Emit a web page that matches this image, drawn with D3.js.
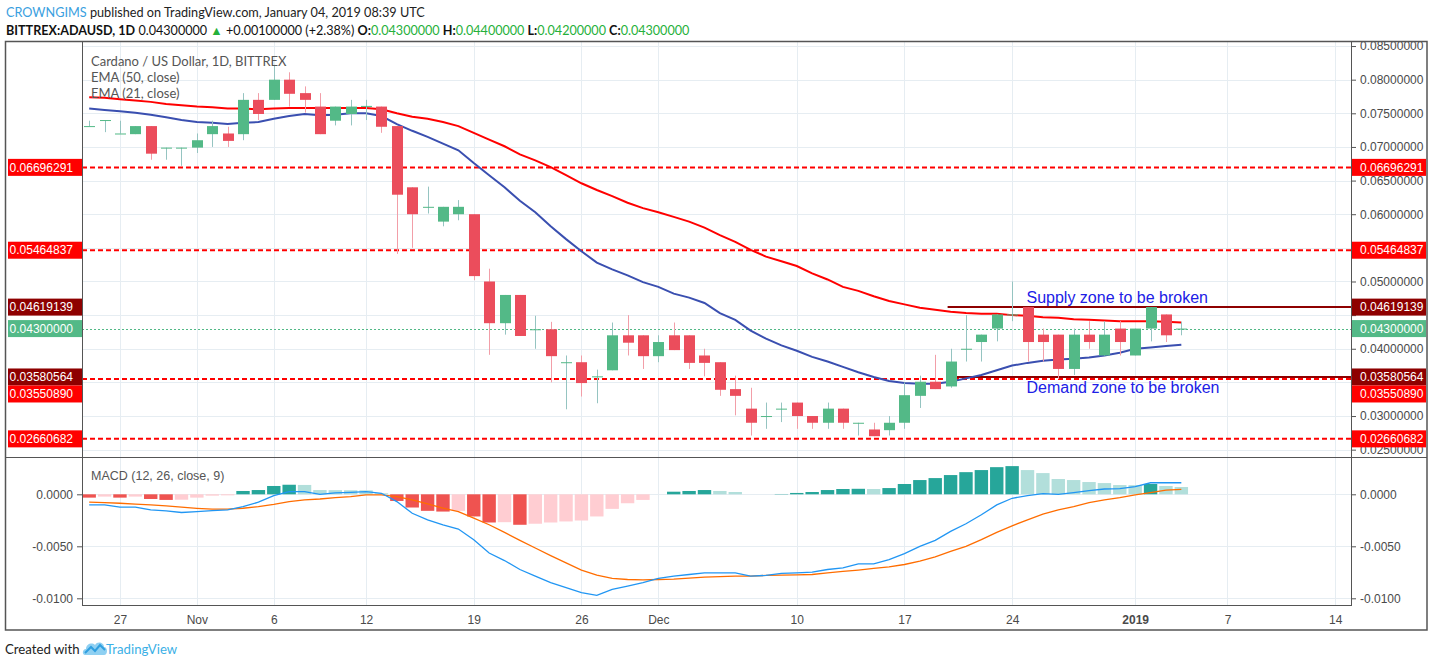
<!DOCTYPE html>
<html><head><meta charset="utf-8">
<script src="https://cdn.jsdelivr.net/npm/d3@7/dist/d3.min.js"></script>
<style>
body{margin:0;background:#fff;}
svg{display:block;}
.ax text{font-family:"Liberation Sans Narrow","Arial Narrow","Liberation Sans",sans-serif;font-size:12px;fill:#4a4a4a;}
</style>
</head><body>
<svg id="chart" width="1433" height="667"></svg>
<script>
// ---------------- DATA ----------------
const startDay = [2018, 9, 25]; // first candle: 25 Oct 2018 (UTC)
const opens  = [0.0731,0.0740,0.0720,0.0719,0.0731,0.0699,0.0699,0.0699,0.0719,0.0720,0.0719,0.0770,0.0770,0.0800,0.0780,0.0760,0.0739,0.0749,0.0760,0.0760,0.0731,0.0640,0.0611,0.0589,0.0600,0.0600,0.0500,0.0438,0.0480,0.0429,0.0429,0.0380,0.0380,0.0359,0.0368,0.0420,0.0420,0.0389,0.0420,0.0420,0.0390,0.0380,0.0340,0.0311,0.0300,0.0311,0.0320,0.0300,0.0290,0.0311,0.0290,0.0280,0.0279,0.0290,0.0330,0.0351,0.0344,0.0400,0.0410,0.0430,0.0451,0.0462,0.0421,0.0421,0.0370,0.0421,0.0390,0.0430,0.0390,0.0430,0.0451,0.0430];
const highs  = [0.0739,0.0740,0.0739,0.0731,0.0731,0.0699,0.0699,0.0720,0.0739,0.0730,0.0780,0.0780,0.0822,0.0811,0.0790,0.0780,0.0760,0.0770,0.0770,0.0760,0.0731,0.0640,0.0641,0.0611,0.0621,0.0600,0.0519,0.0480,0.0480,0.0449,0.0440,0.0390,0.0390,0.0369,0.0439,0.0450,0.0420,0.0420,0.0439,0.0420,0.0400,0.0380,0.0360,0.0342,0.0320,0.0320,0.0320,0.0300,0.0320,0.0311,0.0290,0.0290,0.0300,0.0350,0.0360,0.0391,0.0400,0.0450,0.0421,0.0451,0.0500,0.0462,0.0430,0.0421,0.0430,0.0441,0.0441,0.0441,0.0430,0.0462,0.0451,0.0440];
const lows   = [0.0731,0.0722,0.0720,0.0719,0.0681,0.0681,0.0672,0.0691,0.0700,0.0700,0.0710,0.0740,0.0770,0.0760,0.0751,0.0719,0.0732,0.0732,0.0740,0.0721,0.0541,0.0550,0.0601,0.0582,0.0591,0.0502,0.0391,0.0421,0.0419,0.0400,0.0350,0.0310,0.0329,0.0319,0.0368,0.0390,0.0370,0.0380,0.0398,0.0370,0.0359,0.0330,0.0301,0.0271,0.0281,0.0291,0.0281,0.0281,0.0281,0.0281,0.0271,0.0270,0.0271,0.0281,0.0312,0.0340,0.0342,0.0381,0.0381,0.0411,0.0441,0.0381,0.0381,0.0355,0.0361,0.0400,0.0390,0.0390,0.0390,0.0411,0.0410,0.0420];
const closes = [0.0731,0.0740,0.0720,0.0731,0.0690,0.0699,0.0699,0.0710,0.0731,0.0709,0.0770,0.0749,0.0800,0.0779,0.0770,0.0719,0.0760,0.0760,0.0761,0.0730,0.0629,0.0600,0.0611,0.0611,0.0611,0.0508,0.0438,0.0480,0.0419,0.0429,0.0389,0.0380,0.0349,0.0359,0.0420,0.0409,0.0389,0.0410,0.0398,0.0379,0.0379,0.0339,0.0330,0.0290,0.0300,0.0311,0.0300,0.0290,0.0311,0.0290,0.0290,0.0270,0.0290,0.0331,0.0351,0.0340,0.0381,0.0400,0.0421,0.0451,0.0451,0.0410,0.0410,0.0370,0.0421,0.0410,0.0421,0.0410,0.0430,0.0462,0.0420,0.0430];
const ema50  = [0.0774,0.0773,0.0771,0.0769,0.0767,0.0764,0.0762,0.0760,0.0759,0.0757,0.0757,0.0756,0.0757,0.0758,0.0758,0.0758,0.0758,0.0758,0.0758,0.0756,0.0750,0.0745,0.0742,0.0737,0.0731,0.0721,0.0711,0.0701,0.0689,0.0680,0.0670,0.0658,0.0646,0.0636,0.0627,0.0617,0.0609,0.0603,0.0596,0.0589,0.0580,0.0569,0.0559,0.0547,0.0537,0.0530,0.0523,0.0512,0.0503,0.0492,0.0486,0.0478,0.0471,0.0466,0.0461,0.0458,0.0455,0.0453,0.0452,0.0452,0.0450,0.0449,0.0447,0.0446,0.0444,0.0443,0.0442,0.0441,0.0441,0.0441,0.0440,0.0439];
const ema21  = [0.0757,0.0755,0.0753,0.0751,0.0748,0.0744,0.0740,0.0737,0.0736,0.0734,0.0736,0.0737,0.0742,0.0746,0.0749,0.0747,0.0748,0.0750,0.0750,0.0746,0.0734,0.0724,0.0715,0.0705,0.0695,0.0676,0.0658,0.0640,0.0620,0.0603,0.0582,0.0563,0.0545,0.0528,0.0518,0.0509,0.0499,0.0492,0.0482,0.0476,0.0468,0.0453,0.0443,0.0427,0.0415,0.0405,0.0397,0.0388,0.0381,0.0373,0.0365,0.0358,0.0352,0.0349,0.0348,0.0348,0.0351,0.0356,0.0361,0.0368,0.0375,0.0379,0.0382,0.0384,0.0385,0.0387,0.0390,0.0394,0.0400,0.0402,0.0404,0.0406];
const macdLine   = [-0.00102,-0.00102,-0.00124,-0.00124,-0.00150,-0.00159,-0.00175,-0.00166,-0.00156,-0.00150,-0.00118,-0.00076,-0.00013,0.00025,0.00025,0.00000,0.00013,0.00019,0.00025,0.00010,-0.00070,-0.00182,-0.00245,-0.00293,-0.00334,-0.00436,-0.00564,-0.00637,-0.00723,-0.00787,-0.00850,-0.00898,-0.00946,-0.00971,-0.00914,-0.00882,-0.00850,-0.00809,-0.00787,-0.00771,-0.00755,-0.00755,-0.00755,-0.00787,-0.00780,-0.00761,-0.00755,-0.00748,-0.00723,-0.00707,-0.00669,-0.00669,-0.00627,-0.00570,-0.00500,-0.00443,-0.00357,-0.00283,-0.00197,-0.00102,-0.00038,-0.00013,0.00006,0.00000,0.00016,0.00035,0.00051,0.00054,0.00073,0.00111,0.00111,0.00111];
const signalLine = [-0.00076,-0.00080,-0.00086,-0.00094,-0.00102,-0.00112,-0.00124,-0.00135,-0.00143,-0.00143,-0.00134,-0.00118,-0.00096,-0.00070,-0.00054,-0.00045,-0.00032,-0.00022,-0.00006,-0.00006,-0.00022,-0.00054,-0.00092,-0.00134,-0.00166,-0.00229,-0.00293,-0.00366,-0.00443,-0.00516,-0.00589,-0.00659,-0.00729,-0.00777,-0.00809,-0.00819,-0.00822,-0.00819,-0.00815,-0.00806,-0.00797,-0.00792,-0.00787,-0.00787,-0.00780,-0.00777,-0.00774,-0.00771,-0.00755,-0.00742,-0.00729,-0.00713,-0.00698,-0.00675,-0.00643,-0.00602,-0.00548,-0.00500,-0.00436,-0.00366,-0.00303,-0.00245,-0.00191,-0.00150,-0.00118,-0.00080,-0.00054,-0.00032,-0.00006,0.00016,0.00041,0.00048];
const histogram  = [-0.00032,-0.00022,-0.00032,-0.00022,-0.00045,-0.00054,-0.00052,-0.00032,-0.00013,-0.00010,0.00032,0.00041,0.00080,0.00092,0.00090,0.00041,0.00040,0.00039,0.00038,0.00010,-0.00064,-0.00127,-0.00159,-0.00166,-0.00159,-0.00213,-0.00271,-0.00268,-0.00293,-0.00283,-0.00271,-0.00261,-0.00252,-0.00213,-0.00140,-0.00086,-0.00054,0.00000,0.00025,0.00032,0.00041,0.00032,0.00022,0.00000,0.00000,0.00003,0.00013,0.00022,0.00041,0.00051,0.00053,0.00051,0.00060,0.00099,0.00137,0.00156,0.00185,0.00213,0.00233,0.00261,0.00271,0.00233,0.00204,0.00147,0.00137,0.00118,0.00108,0.00089,0.00088,0.00099,0.00080,0.00070];

const priceTicks = [0.025,0.030,0.035,0.040,0.045,0.050,0.055,0.060,0.065,0.070,0.075,0.080,0.085];
const macdTicks = [0, -0.005, -0.010];
const macdTickLabels = ["0.0000","-0.0050","-0.0100"];
const dateTicks = ["2018-10-27","2018-11-01","2018-11-06","2018-11-12","2018-11-19","2018-11-26","2018-12-01","2018-12-10","2018-12-17","2018-12-24","2019-01-01","2019-01-07","2019-01-14"];
const dateTickLabels = ["27","Nov","6","12","19","26","Dec","10","17","24","2019","7","14"];

const dashedLevels = [0.06696291, 0.05464837, 0.03550890, 0.02660682];
const zoneLevels = [0.04619139, 0.03580564];
const zoneStart = "2018-12-20";
const zoneTexts = ["Supply zone to be broken", "Demand zone to be broken"];
const lastPrice = 0.04300000;

// ---------------- SETUP ----------------
const svg = d3.select("#chart");
const L = 82, R = 1351, T = 42, MID = 457, B = 605;
const DAY = 864e5;
const dates = opens.map((_, i) => new Date(Date.UTC(startDay[0], startDay[1], startDay[2] + i)));
const d0 = dates[0].getTime();
const x = d3.scaleUtc().domain([new Date(d0 - 0.468 * DAY), new Date(d0 + 82.03 * DAY)]).range([L, R]);
const y = d3.scaleLinear().domain([0.02391, 0.08560]).range([MID, T]);
const ym = d3.scaleLinear().domain([-0.010644, 0.003587]).range([B, MID]);
const parse = d3.utcParse("%Y-%m-%d");
const tickDates = dateTicks.map(parse);

const defs = svg.append("defs");
defs.append("clipPath").attr("id","cpMain").append("rect").attr("x",L).attr("y",T).attr("width",R-L).attr("height",MID-T);
defs.append("clipPath").attr("id","cpMacd").append("rect").attr("x",L).attr("y",MID).attr("width",R-L).attr("height",B-MID);
defs.append("clipPath").attr("id","cpMainAx").append("rect").attr("x",0).attr("y",T).attr("width",1433).attr("height",MID-T);

const GRID = "#e6edf2";
const grid = svg.append("g");
grid.selectAll(".vg").data(tickDates).join("line")
  .attr("x1", d => Math.round(x(d)) + 0.5).attr("x2", d => Math.round(x(d)) + 0.5)
  .attr("y1", T).attr("y2", B).attr("stroke", GRID).attr("stroke-width", 1);
grid.selectAll(".hg").data(priceTicks).join("line")
  .attr("x1", L).attr("x2", R).attr("y1", d => Math.round(y(d)) + 0.5).attr("y2", d => Math.round(y(d)) + 0.5)
  .attr("stroke", GRID).attr("clip-path","url(#cpMain)");
grid.selectAll(".mg").data(macdTicks).join("line")
  .attr("x1", L).attr("x2", R).attr("y1", d => Math.round(ym(d)) + 0.5).attr("y2", d => Math.round(ym(d)) + 0.5)
  .attr("stroke", GRID);

// ---------------- MAIN PANE ----------------
const main = svg.append("g").attr("clip-path","url(#cpMain)");

main.selectAll(".lvl").data(dashedLevels).join("line")
  .attr("x1", L).attr("x2", R).attr("y1", d => y(d)).attr("y2", d => y(d))
  .attr("stroke", "#ff0000").attr("stroke-width", 2).attr("stroke-dasharray", "5,3");

main.append("line").attr("x1", L).attr("x2", R).attr("y1", Math.round(y(lastPrice)) + 0.5).attr("y2", Math.round(y(lastPrice)) + 0.5)
  .attr("stroke", "#53b987").attr("stroke-width", 1).attr("stroke-dasharray", "2,2");

main.selectAll(".zone").data(zoneLevels).join("line")
  .attr("x1", x(parse(zoneStart)) - 3).attr("x2", R).attr("y1", d => y(d)).attr("y2", d => y(d))
  .attr("stroke", "#8e0000").attr("stroke-width", 2);

const lineGen = arr => d3.line().x((d, i) => x(dates[i])).y(d => y(d))(arr);
main.append("path").attr("d", lineGen(ema50)).attr("fill","none").attr("stroke","#ff0000").attr("stroke-width",2);
main.append("path").attr("d", lineGen(ema21)).attr("fill","none").attr("stroke","#3a4fb0").attr("stroke-width",2);

const UP = "#53b987", DN = "#eb4d5c", UPW = "#95c4c1", DNW = "#f29ea8";
const idx = d3.range(opens.length);
const candles = main.append("g");
candles.selectAll(".wick").data(idx).join("line")
  .attr("x1", i => Math.round(x(dates[i])) + 0.5).attr("x2", i => Math.round(x(dates[i])) + 0.5)
  .attr("y1", i => y(highs[i])).attr("y2", i => y(lows[i]))
  .attr("stroke", i => closes[i] >= opens[i] ? UPW : DNW).attr("stroke-width", 1);
candles.selectAll(".body").data(idx).join("rect")
  .attr("x", i => Math.round(x(dates[i])) - 5)
  .attr("width", 11)
  .attr("y", i => y(Math.max(opens[i], closes[i])))
  .attr("height", i => Math.max(1, Math.abs(y(opens[i]) - y(closes[i]))))
  .attr("fill", i => closes[i] >= opens[i] ? UP : DN);

svg.selectAll(".ztext").data(zoneTexts).join("text")
  .attr("x", x(parse("2018-12-25")) - 1)
  .attr("y", (d, i) => i === 0 ? y(zoneLevels[0]) - 4.5 : y(zoneLevels[1]) + 16.5)
  .attr("font-family", "Liberation Sans, Arial, sans-serif").attr("font-size", 16)
  .attr("fill", "#2020e6").text(d => d);

// ---------------- MACD PANE ----------------
const macd = svg.append("g").attr("clip-path","url(#cpMacd)");
const histColor = (v, i) => {
  const prev = i > 0 ? histogram[i - 1] : v;
  if (v >= 0) return v > prev ? "#26a69a" : "#b2dfdb";
  return v < prev || i === 0 ? "#ef5350" : "#ffcdd2";
};
macd.selectAll(".hb").data(histogram).join("rect")
  .attr("x", (d, i) => x(dates[i]) - 6.7).attr("width", 13.4)
  .attr("y", d => Math.min(ym(d), ym(0))).attr("height", d => Math.abs(ym(d) - ym(0)))
  .attr("fill", histColor);
const mline = arr => d3.line().x((d, i) => x(dates[i])).y(d => ym(d))(arr);
macd.append("path").attr("d", mline(signalLine)).attr("fill","none").attr("stroke","#ff6d00").attr("stroke-width",1.3);
macd.append("path").attr("d", mline(macdLine)).attr("fill","none").attr("stroke","#2196f3").attr("stroke-width",1.3);

// ---------------- PRICE LABEL BOXES (positions) ----------------
const labels = [
  {v: zoneLevels[0], c: "#8e0000"},
  {v: lastPrice, c: "#53b987"},
  {v: zoneLevels[1], c: "#8e0000"},
  ...dashedLevels.map(v => ({v, c: "#ff0000"}))
];
const BH = 17, placed = [];
labels.forEach(lb => {
  let cy = y(lb.v);
  let moved = true;
  while (moved) {
    moved = false;
    for (const p of placed) {
      if (Math.abs(p.cy - cy) < BH) { cy = p.cy + BH; moved = true; }
    }
  }
  lb.cy = cy; placed.push(lb);
});
const hiddenTick = v => labels.some(lb => Math.abs(y(v) - lb.cy) <= BH / 2 + 0.5);

// ---------------- AXES ----------------
const fmt8 = d3.format(".8f");
const axL = svg.append("g").attr("class","ax").attr("transform",`translate(${L},0)`).attr("clip-path","url(#cpMainAx)")
  .call(d3.axisLeft(y).tickValues(priceTicks).tickFormat(fmt8).tickSize(5).tickPadding(4));
const axR = svg.append("g").attr("class","ax").attr("transform",`translate(${R},0)`).attr("clip-path","url(#cpMainAx)")
  .call(d3.axisRight(y).tickValues(priceTicks).tickFormat(fmt8).tickSize(5).tickPadding(4));
[axL, axR].forEach(g => g.selectAll(".tick").filter(d => hiddenTick(d)).select("text").remove());
const axML = svg.append("g").attr("class","ax").attr("transform",`translate(${L},0)`)
  .call(d3.axisLeft(ym).tickValues(macdTicks).tickFormat((d,i)=>macdTickLabels[i]).tickSize(5).tickPadding(4));
const axMR = svg.append("g").attr("class","ax").attr("transform",`translate(${R},0)`)
  .call(d3.axisRight(ym).tickValues(macdTicks).tickFormat((d,i)=>macdTickLabels[i]).tickSize(5).tickPadding(4));
const axB = svg.append("g").attr("class","ax").attr("transform",`translate(0,${B})`)
  .call(d3.axisBottom(x).tickValues(tickDates).tickFormat((d,i)=>dateTickLabels[i]).tickSize(0).tickPadding(10));
[axL, axR, axML, axMR, axB].forEach(g => { g.select(".domain").remove(); g.selectAll(".tick line").attr("stroke","#555"); });
axB.selectAll(".tick text").attr("font-weight", (d,i) => dateTickLabels[i] === "2019" ? "bold" : null);

const lg = svg.append("g").attr("class","ax");
labels.forEach(lb => {
  [[8, L - 8, "end", L - 9], [R, 75, "start", R + 9]].forEach(([rx, rw, anchor, tx]) => {
    lg.append("rect").attr("x", rx).attr("y", lb.cy - BH / 2).attr("width", rw).attr("height", BH).attr("fill", lb.c);
    lg.append("text").attr("x", tx).attr("y", lb.cy).attr("dy", "0.35em").attr("text-anchor", anchor)
      .style("fill", "#fff").text(fmt8(lb.v));
  });
});

// ---------------- FRAME ----------------
const fr = svg.append("g").attr("stroke","#555").attr("fill","none");
fr.append("rect").attr("x",5.5).attr("y",41.5).attr("width",1421.5).attr("height",588.5).attr("stroke-width",1.5);
fr.append("line").attr("x1",L+0.5).attr("x2",L+0.5).attr("y1",T).attr("y2",B);
fr.append("line").attr("x1",R+0.5).attr("x2",R+0.5).attr("y1",T).attr("y2",B);
fr.append("line").attr("x1",5).attr("x2",1427).attr("y1",MID+0.5).attr("y2",MID+0.5);
fr.append("line").attr("x1",L).attr("x2",R+1).attr("y1",B+0.5).attr("y2",B+0.5);

// ---------------- TEXTS ----------------
const HF = "Lato, 'Open Sans', sans-serif";
const h1 = svg.append("text").attr("x", 6).attr("y", 17).attr("font-family", HF).attr("font-size", 12.7).attr("fill", "#222");
h1.append("tspan").attr("fill", "#3aa0e0").text("CROWNGIMS");
h1.append("tspan").text(" published on TradingView.com, January 04, 2019 08:39 UTC");
const h2 = svg.append("text").attr("x", 6).attr("y", 34.5).attr("font-family", HF).attr("font-size", 12.6).attr("fill", "#111");
h2.append("tspan").attr("font-weight","bold").text("BITTREX:ADAUSD, 1D");
h2.append("tspan").text(" 0.04300000 ");
h2.append("tspan").attr("fill","#25b03a").text("▲");
h2.append("tspan").text(" +0.00100000 (+2.38%) ");
[["O:","0.04300000"],["H:","0.04400000"],["L:","0.04200000"],["C:","0.04300000"]].forEach(([k,v],i) => {
  h2.append("tspan").attr("font-weight","bold").text((i ? " " : "") + k);
  h2.append("tspan").attr("fill","#25b03a").text(v);
});

const PF = "Lato, 'Open Sans', sans-serif";
svg.append("text").attr("x", 91).attr("y", 65.5).attr("font-family", PF).attr("font-size", 13).attr("fill", "#555").text("Cardano / US Dollar, 1D, BITTREX");
svg.append("text").attr("x", 91).attr("y", 82).attr("font-family", PF).attr("font-size", 13).attr("fill", "#555").text("EMA (50, close)");
svg.append("text").attr("x", 91).attr("y", 98).attr("font-family", PF).attr("font-size", 13).attr("fill", "#555").text("EMA (21, close)");
svg.append("text").attr("x", 91).attr("y", 479.5).attr("font-family", "Liberation Sans Narrow, Liberation Sans, sans-serif").attr("font-size", 12.5).attr("fill", "#555").text("MACD (12, 26, close, 9)");

svg.append("text").attr("x", 5).attr("y", 654).attr("font-family", HF).attr("font-size", 13.2).attr("fill", "#222").text("Created with");
const logo = svg.append("g").attr("transform","translate(83,641)");
logo.append("path").attr("d","M2,14 C-1,14 -1,8 3,8 C3,3 9,1 12,4 C14,0 21,1 21,6 C25,6 25,14 21,14 Z").attr("fill","#8fd0f2");
logo.append("path").attr("d","M2,12 L8,6 L12,10 L17,4 L22,9").attr("fill","none").attr("stroke","#2f9fe0").attr("stroke-width",2);
svg.append("text").attr("x", 106).attr("y", 654).attr("font-family", HF).attr("font-size", 13.2).attr("fill", "#3bb0e6").text("TradingView");
</script>
</body></html>
